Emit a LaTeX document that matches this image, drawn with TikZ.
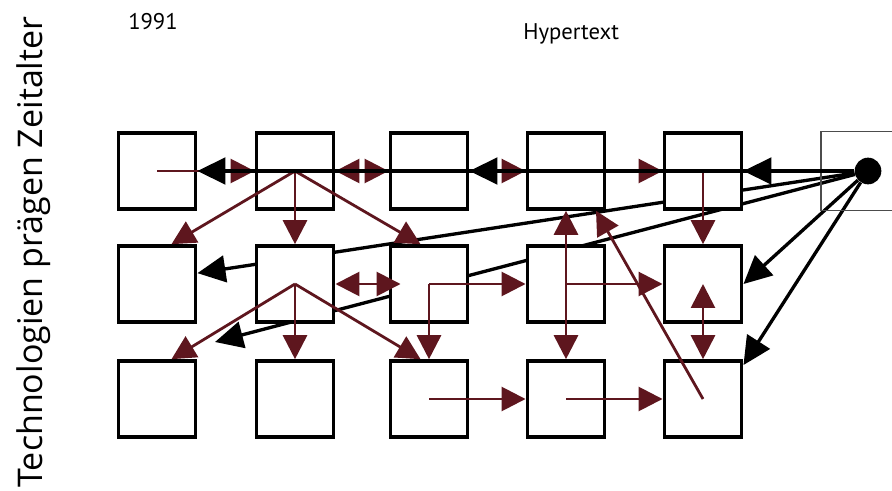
\documentclass[tikz,border=0pt]{standalone}
\usepackage{fontspec}
\setmainfont{Open Sans}
\newfontfamily\labelfont{PT Sans}
\usetikzlibrary{arrows.meta}
\pgfdeclarelayer{background}
\pgfsetlayers{background,main}
\definecolor{wine}{RGB}{94,22,30}

\begin{document}
\begin{tikzpicture}[x=0.75pt,y=-0.75pt,
  box/.style={draw,line width=2.5pt,fill=white,minimum width=58.2pt,minimum height=57.2pt,inner sep=0pt},
  link/.style={draw=wine,line width=2.1pt,-{Triangle[length=18pt,width=18pt]}},
  twolink/.style={draw=wine,line width=2.1pt,{Triangle[length=18pt,width=18pt]}-{Triangle[length=18pt,width=18pt]}},
  jump/.style={draw=black,line width=2.5pt,-{Triangle[length=21pt,width=20pt]}}]
  \useasboundingbox (0,0) rectangle (892,491);
  \clip (0,0) rectangle (892,491);

  % Titles
  \node[font=\labelfont\fontsize{17}{20}\selectfont,anchor=base west,inner sep=0pt] (year) at (128,30) {1991};
  \node[font=\labelfont\fontsize{17}{20}\selectfont,anchor=base west,inner sep=0pt] (topic) at (523,40) {Hypertext};
  \node[font=\fontsize{25.5}{30}\selectfont,rotate=90,anchor=base,inner sep=0pt] (side) at (42,252) {Technologien prägen Zeitalter};

  % Pages
  \foreach \c/\x in {1/157,2/295,3/429,4/566,5/703} {
    \foreach \r/\y in {1/171,2/284,3/399} {
      \node[box] (b\r\c) at (\x,\y) {};
    }
  }

  % Source page with anchor point
  \node[draw=black!70,line width=1pt,minimum width=60pt,minimum height=59pt] (src) at (861,171) {};
  \node[circle,fill,inner sep=0pt,minimum size=20pt] (dot) at (868,171) {};
  \coordinate (t31) at (215,342);

  % Links hidden behind the pages
  \begin{pgfonlayer}{background}
    \draw[jump] (dot) -- (b21.15);
    \draw[jump] (dot) -- (t31);
    \draw[jump] (dot) -- (b25.east);
    \draw[jump] (dot) -- (b35.40);
  \end{pgfonlayer}

  % Links inside the web
  \draw[link] (b11.center) -- (b12.west);
  \draw[twolink] (b12.east) -- (b13.west);
  \draw[link] (b13.center) -- (b14.west);
  \draw[link] (b14.center) -- (b15.west);
  \foreach \r/\s in {1/2,2/3} {
    \draw[link] (b\r2.center) -- (b\s1.70);
    \draw[link] (b\r2.center) -- (b\s2.north);
    \draw[link] (b\r2.center) -- (b\s3.102);
  }
  \draw[twolink] (b22.east) -- ([xshift=9pt]b23.west);
  \draw[link] (b23.center) -- (b24.west);
  \draw[link] (b23.center) -- (b33.north);
  \draw[link] (b24.center) -- (b14.south);
  \draw[link] (b24.center) -- (b34.north);
  \draw[link] (b24.center) -- (b25.west);
  \draw[link] (b35.center) -- (b14.-53);
  \draw[link] (b15.center) -- (b25.north);
  \draw[twolink] (b25.center) -- (b35.north);
  \draw[link] (b33.center) -- (b34.west);
  \draw[link] (b34.center) -- (b35.west);

  % Links from the anchor point
  \draw[jump] (dot) -- (b15.east);
  \draw[jump] (dot) -- (b13.east);
  \draw[jump] (dot) -- (b11.east);
\end{tikzpicture}
\end{document}
